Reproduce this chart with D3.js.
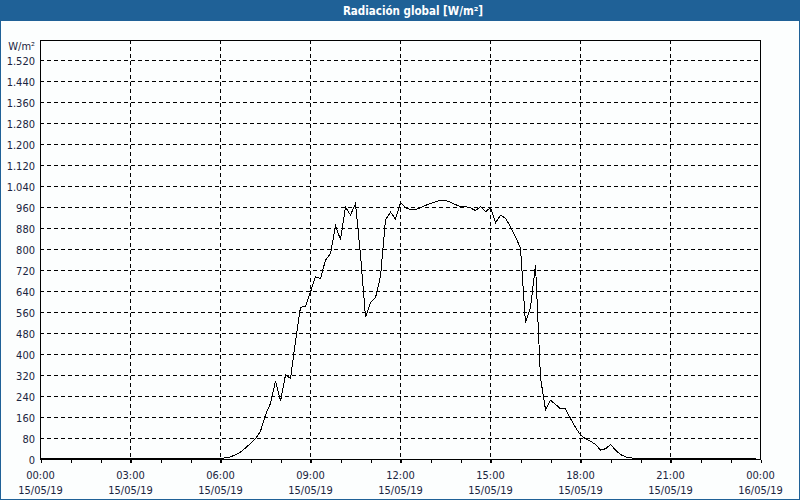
<!DOCTYPE html>
<html>
<head>
<meta charset="utf-8">
<script src="https://cdn.jsdelivr.net/npm/d3@7"></script>
<style>
  html, body { margin: 0; padding: 0; background: #fcfefe; }
  svg { display: block; }
  text { font-family: "DejaVu Sans Condensed", "DejaVu Sans", sans-serif; }
</style>
</head>
<body>
<script>
// ---- data ----
const titleText = "Radiación global [W/m²]";
const unitLabel = "W/m²";
const startTime = "2019-05-15T00:00:00";
const endTime = "2019-05-16T00:00:00";
const stepMinutes = 10;
// global radiation (W/m²), one value every 10 minutes from 00:00 to 23:50
const radiation = [
  5,5,5,5,5,5,5,5,5,5,5,5,5,5,5,5,5,5,5,5,5,5,5,5,5,5,5,5,5,5,5,5,5,5,5,5,5,
  6,
  10, 18, 28, 44, 61, 79, 108, 170, 214, 298,
  222, 322, 309, 450, 580, 584, 638, 696, 689, 760,
  784, 890, 838, 961, 931, 975, 780, 543, 597, 616,
  698, 913, 942, 916, 980, 959, 952, 952, 959, 968,
  975, 982, 987, 987, 980, 971, 963, 963, 959, 948,
  963, 944, 959, 902, 931, 919, 886, 848, 806, 520,
  578, 741, 311, 190, 226, 210, 193, 193, 156, 122,
  93, 79, 70, 57, 36, 41, 57, 36, 19, 10, 6,
  5,5,5,5,5,5,5,5,5,5,5,5,5,5,5,5,5,5,5,5,5,5,5,5,5
];
const yTickValues = [0,80,160,240,320,400,480,560,640,720,800,880,960,1040,1120,1200,1280,1360,1440,1520];
const yMax = 1600;
const xTickHours = [0,3,6,9,12,15,18,21,24];

// ---- layout ----
const W = 800, H = 500;
const m = { left: 40, right: 40, top: 40, bottom: 40 };
const iw = W - m.left - m.right, ih = H - m.top - m.bottom;

const t0 = new Date(startTime), t1 = new Date(endTime);
const data = radiation.map((v, i) => ({ t: new Date(t0.getTime() + i * stepMinutes * 60000), v }));

const x = d3.scaleTime().domain([t0, t1]).range([0, iw]);
const y = d3.scaleLinear().domain([0, yMax]).range([ih, 0]);

const locale = d3.formatLocale({ decimal: ",", thousands: ".", grouping: [3], currency: ["", ""] });
const fmtY = locale.format(",");
const fmtH = d3.timeFormat("%H:%M");
const fmtD = d3.timeFormat("%d/%m/%y");

const svg = d3.select("body").append("svg").attr("width", W).attr("height", H)
  .attr("shape-rendering", "crispEdges");

svg.append("rect").attr("x", 0).attr("y", 0).attr("width", W).attr("height", H).attr("fill", "#fcfefe");
// title bar
svg.append("rect").attr("x", 0).attr("y", 0).attr("width", W).attr("height", 21).attr("fill", "#1f6197");
svg.append("rect").attr("x", 0.5).attr("y", 0.5).attr("width", W - 1).attr("height", H - 1)
  .attr("fill", "none").attr("stroke", "#1f6197");
svg.append("text").attr("x", 413).attr("y", 11).attr("text-anchor", "middle").attr("dominant-baseline", "middle")
  .attr("fill", "#ffffff").attr("font-weight", "bold").attr("font-size", "11.5px").text(titleText);

const g = svg.append("g").attr("transform", `translate(${m.left},${m.top})`);

const xTicks = xTickHours.map(h => d3.timeHour.offset(t0, h));
const hourTicks = d3.timeHour.range(t0, d3.timeHour.offset(t1, 1));

// horizontal grid
g.append("g").attr("class", "ygrid")
  .selectAll("line").data(yTickValues.filter(v => v > 0)).join("line")
  .attr("x1", 0).attr("x2", iw)
  .attr("y1", d => Math.round(y(d)) - 0.5).attr("y2", d => Math.round(y(d)) - 0.5)
  .attr("stroke", "#000").attr("stroke-dasharray", "4,3");

// vertical grid
g.append("g").attr("class", "xgrid")
  .selectAll("line").data(xTicks.slice(1, -1)).join("line")
  .attr("x1", d => Math.round(x(d)) + 0.5).attr("x2", d => Math.round(x(d)) + 0.5)
  .attr("y1", 0).attr("y2", ih + 3)
  .attr("stroke", "#000").attr("stroke-dasharray", "4,3");

// hourly minor ticks
g.append("g").attr("transform", `translate(0,${ih})`)
  .call(d3.axisBottom(x).tickValues(hourTicks).tickSize(3).tickFormat(""))
  .call(s => s.select(".domain").remove())
  .call(s => s.selectAll("line").attr("stroke", "#000").attr("transform", "translate(0.5,0)"));

// frame
g.append("rect").attr("x", 0.5).attr("y", 0.5).attr("width", iw).attr("height", ih - 1)
  .attr("fill", "none").attr("stroke", "#000");

// y axis labels
const yAxis = g.append("g")
  .call(d3.axisLeft(y).tickValues(yTickValues).tickFormat(fmtY).tickSize(0).tickPadding(5));
yAxis.select(".domain").remove();
yAxis.selectAll("text").attr("font-size", "11px").attr("fill", "#1a2440")
  .attr("font-family", "'DejaVu Sans Condensed', 'DejaVu Sans', sans-serif").attr("dy", "0.35em");

g.append("text").attr("x", -5).attr("y", 7).attr("text-anchor", "end").attr("dominant-baseline", "middle")
  .attr("font-size", "11px").attr("fill", "#1a2440").text(unitLabel);

// x axis labels (two lines)
const xAxis = g.append("g").attr("transform", `translate(0,${ih})`)
  .call(d3.axisBottom(x).tickValues(xTicks).tickFormat(fmtH).tickSize(0).tickPadding(11));
xAxis.select(".domain").remove();
xAxis.selectAll("text").attr("font-size", "11px").attr("fill", "#1a2440")
  .attr("font-family", "'DejaVu Sans Condensed', 'DejaVu Sans', sans-serif")
  .each(function (d) {
    d3.select(this).append("tspan").attr("x", 0).attr("dy", "1.35em").text(fmtD(d));
  });

// data line
const line = d3.line().x(d => x(d.t) + 0.5).y(d => y(d.v) - 0.5);
g.append("path").datum(data).attr("d", line)
  .attr("fill", "none").attr("stroke", "#000").attr("stroke-width", 1);

// bottom axis line
g.append("line").attr("x1", 0).attr("x2", iw).attr("y1", ih - 0.5).attr("y2", ih - 0.5).attr("stroke", "#000");
</script>
</body>
</html>
